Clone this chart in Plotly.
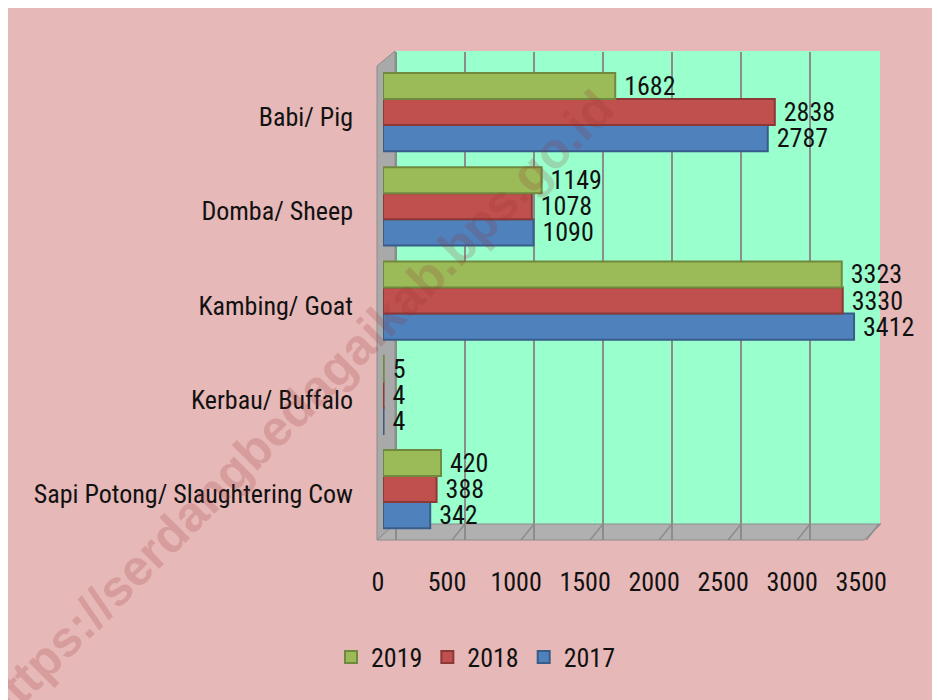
import plotly.graph_objects as go

categories = ["Sapi Potong/ Slaughtering Cow", "Kerbau/ Buffalo", "Kambing/ Goat",
              "Domba/ Sheep", "Babi/ Pig"]
years = ["2017", "2018", "2019"]
values_2017 = [342, 4, 3412, 1090, 2787]
values_2018 = [388, 4, 3330, 1078, 2838]
values_2019 = [420, 5, 3323, 1149, 1682]
x_ticks = [0, 500, 1000, 1500, 2000, 2500, 3000, 3500]

series = {"2017": values_2017, "2018": values_2018, "2019": values_2019}
fill = {"2019": "#9BBB59", "2018": "#C0504D", "2017": "#4F81BD"}
edge = {"2019": "#71893F", "2018": "#8C3836", "2017": "#385D8A"}

FONT = "Liberation Sans Narrow, Arial Narrow, Roboto Condensed, sans-serif"
FS = 26
W, H = 940, 700
L, R, T, B = 375, 68, 44, 168
PW, PH = W - L - R, H - T - B
OFF = 8  # page margin offset of the screenshot
XMAX = 3600
DEPTH = 94  # 3D depth offset in data units (~13px)

def px(xs):
    return (xs - OFF - L) / PW

def py(ys):
    return (H - B - (ys - OFF)) / PH

fig = go.Figure()
for yr in years:
    fig.add_trace(go.Bar(
        y=categories, x=series[yr], name=yr, orientation="h",
        marker=dict(color=fill[yr], line=dict(color=edge[yr], width=2)),
        text=["\u00a0" + str(v) for v in series[yr]], textposition="outside",
        textfont=dict(family=FONT, size=FS, color="#111111"),
        constraintext="none", cliponaxis=False,
    ))

shapes = [
    # back wall
    dict(type="rect", xref="paper", yref="paper", layer="below",
         x0=px(395), x1=px(880), y0=py(524), y1=py(51),
         fillcolor="#99FFCC", line=dict(width=0)),
    # left wall
    dict(type="path", xref="paper", yref="paper", layer="between",
         path=f"M {px(377)} {py(540)} L {px(395)} {py(524)} L {px(395)} {py(51)} L {px(377)} {py(66)} Z",
         fillcolor="#A9A9A9", line=dict(color="#8C8C8C", width=1)),
    # floor
    dict(type="path", xref="paper", yref="paper", layer="between",
         path=f"M {px(377)} {py(540)} L {px(864)} {py(540)} L {px(881)} {py(524)} L {px(395)} {py(524)} Z",
         fillcolor="#B0B0B0", line=dict(color="#8C8C8C", width=1)),
]
# depth lines on the floor at each tick
for t in x_ticks[1:]:
    shapes.append(dict(type="line", xref="x", yref="paper", layer="between",
                       x0=t, x1=t + DEPTH, y0=py(540), y1=py(524),
                       line=dict(color="#8C8C8C", width=1.5)))

fig.update_layout(
    width=W, height=H,
    paper_bgcolor="#E6B8B7", plot_bgcolor="rgba(0,0,0,0)",
    margin=dict(l=L, r=R, t=T, b=B, pad=0),
    barmode="group", bargap=0.17, bargroupgap=0,
    font=dict(family=FONT, size=FS, color="#111111"),
    shapes=shapes,
    showlegend=True,
    legend=dict(orientation="h", traceorder="reversed", x=px(476), xanchor="center",
                y=py(657), yanchor="middle", font=dict(family=FONT, size=FS),
                bgcolor="rgba(0,0,0,0)"),
    xaxis=dict(range=[0, XMAX], tickvals=x_ticks, ticktext=[str(t) for t in x_ticks],
               showgrid=False, zeroline=False, showline=False, ticks="",
               ticklabelstandoff=24, ticklabelshift=-5,
               tickfont=dict(family=FONT, size=FS)),
    xaxis2=dict(range=[-DEPTH, XMAX - DEPTH], overlaying="x", side="bottom",
                tickvals=x_ticks, showticklabels=False, ticks="",
                showgrid=True, gridcolor="#8C8C8C", gridwidth=2,
                zeroline=False, showline=False),
    yaxis=dict(range=[-0.541, 4.637], showgrid=False, zeroline=False, showline=False,
               ticks="", ticklabelstandoff=29, ticklabelshift=5,
               tickfont=dict(family=FONT, size=FS)),
    annotations=[dict(
        text="https://serdangbedagaikab.bps.go.id", xref="paper", yref="paper",
        x=px(296), y=py(408), xanchor="center", yanchor="middle", showarrow=False,
        textangle=-45, font=dict(family="Liberation Sans, Arial, sans-serif", size=50,
                                 weight=700, color="rgba(150,50,50,0.2)"),
    )],
)
# an invisible trace to activate the overlay axis carrying the shifted grid
fig.add_trace(go.Scatter(x=[None], y=[None], xaxis="x2", showlegend=False,
                         hoverinfo="skip"))

fig.write_html("out.html")
